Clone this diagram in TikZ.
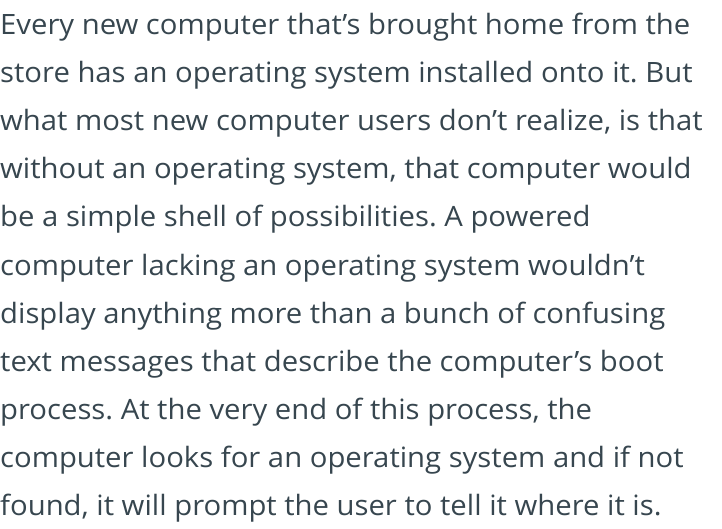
\documentclass[tikz,border=0pt]{standalone}
\usepackage{fontspec}
\setmainfont{Open Sans}[FakeStretch=1.045]
\definecolor{inkgray}{RGB}{55,70,79}
\frenchspacing
\begin{document}
\begin{tikzpicture}[x=1pt,y=1pt,
    para/.style={anchor=base west,inner sep=0pt,text=inkgray,font=\fontsize{28}{34}\selectfont}]
    \useasboundingbox (0,0) rectangle (722,528);
    \node[para] (l1)  at (0,493) {Every new computer that’s brought home from the};
    \node[para] (l2)  at (0,445) {store has an operating system installed onto it. But};
    \node[para] (l3)  at (0,397) {what most new computer users don’t realize, is that};
    \node[para] (l4)  at (0,349) {without an operating system, that computer would};
    \node[para] (l5)  at (0,301) {be a simple shell of possibilities. A powered};
    \node[para] (l6)  at (0,253) {computer lacking an operating system wouldn’t};
    \node[para] (l7)  at (0,205) {display anything more than a bunch of confusing};
    \node[para] (l8)  at (0,157) {text messages that describe the computer’s boot};
    \node[para] (l9)  at (0,109) {process. At the very end of this process, the};
    \node[para] (l10) at (0,61)  {computer looks for an operating system and if not};
    \node[para] (l11) at (0,13)  {found, it will prompt the user to tell it where it is.};
\end{tikzpicture}
\end{document}
